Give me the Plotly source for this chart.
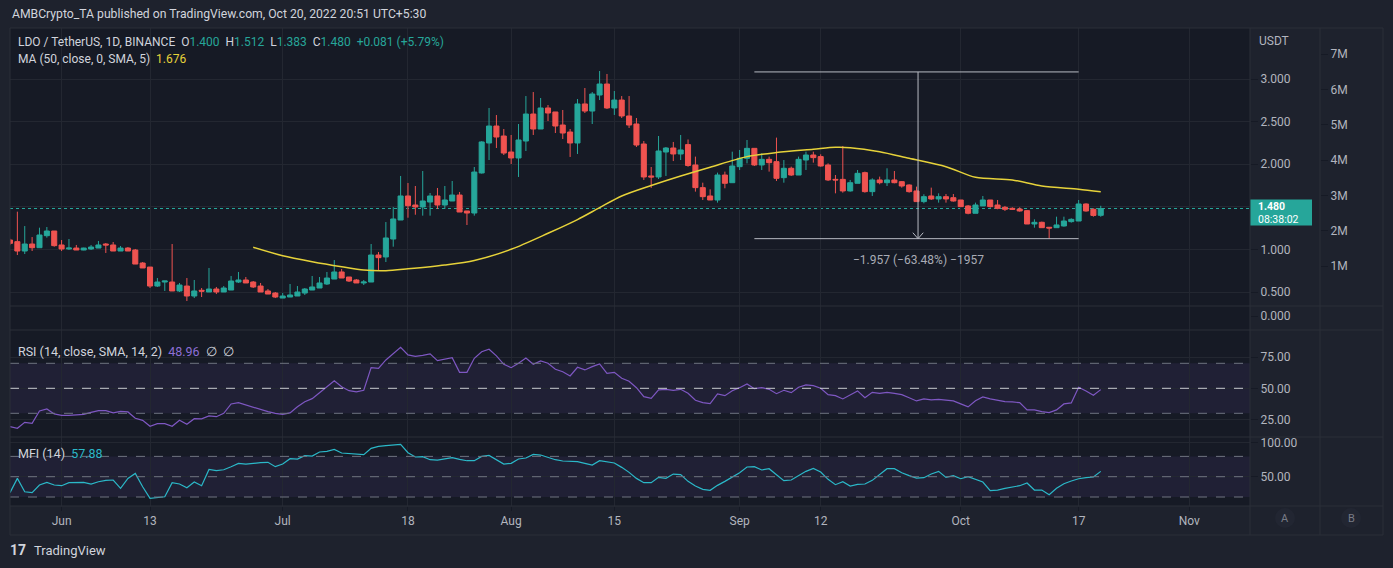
import pandas as pd
import plotly.graph_objects as go

# LDO / TetherUS daily candles, 25 May - 20 Oct 2022
start_day = "2022-05-25"
opens = [1.110, 1.091, 0.981, 1.063, 1.020, 1.161, 1.216, 1.052, 1.005, 1.016,
         0.993, 1.005, 1.016, 1.063, 1.052, 0.981, 1.016, 0.993, 0.840, 0.793,
         0.570, 0.617, 0.617, 0.512, 0.570, 0.453, 0.520, 0.500, 0.535, 0.500,
         0.523, 0.617, 0.641, 0.617, 0.570, 0.512, 0.488, 0.429, 0.441, 0.453,
         0.488, 0.523, 0.547, 0.594, 0.652, 0.735, 0.676, 0.641, 0.606, 0.617,
         0.934, 0.911, 1.122, 1.345, 1.627, 1.521, 1.498, 1.556, 1.627, 1.521,
         1.568, 1.638, 1.451, 1.427, 1.897, 2.249, 2.448, 2.331, 2.143, 2.073,
         2.272, 2.589, 2.413, 2.660, 2.613, 2.460, 2.378, 2.249, 2.707, 2.624,
         2.812, 2.941, 2.660, 2.753, 2.566, 2.472, 2.237, 1.862, 1.850, 2.143,
         2.190, 2.120, 2.230, 1.991, 1.725, 1.627, 1.580, 1.873, 1.783, 1.971,
         2.069, 2.186, 1.991, 2.057, 2.030, 1.842, 1.952, 1.873, 2.049, 2.108,
         2.089, 1.991, 1.822, 1.822, 1.686, 1.776, 1.901, 1.678, 1.815, 1.783,
         1.815, 1.795, 1.756, 1.686, 1.561, 1.627, 1.592, 1.619, 1.607, 1.580,
         1.510, 1.424, 1.510, 1.580, 1.521, 1.494, 1.482, 1.474, 1.455, 1.298,
         1.318, 1.260, 1.255, 1.275, 1.326, 1.333, 1.533, 1.471, 1.400]
highs = [1.125, 1.443, 1.274, 1.145, 1.255, 1.263, 1.216, 1.110, 1.122, 1.052,
         1.020, 1.052, 1.099, 1.075, 1.087, 1.040, 1.028, 1.005, 0.852, 0.793,
         0.664, 0.629, 1.063, 0.606, 0.664, 0.641, 0.547, 0.782, 0.559, 0.570,
         0.688, 0.735, 0.676, 0.629, 0.606, 0.535, 0.500, 0.488, 0.594, 0.570,
         0.547, 0.688, 0.676, 0.735, 0.875, 0.770, 0.676, 0.652, 0.641, 1.063,
         0.969, 1.321, 1.497, 1.862, 1.779, 1.744, 1.920, 1.662, 1.721, 1.744,
         1.803, 1.674, 1.451, 1.967, 2.270, 2.660, 2.577, 2.413, 2.343, 2.472,
         2.800, 2.847, 2.777, 2.695, 2.613, 2.636, 2.413, 2.765, 2.894, 2.847,
         3.094, 3.059, 2.859, 2.800, 2.800, 2.542, 2.272, 1.967, 2.331, 2.202,
         2.261, 2.343, 2.290, 2.089, 1.783, 1.705, 1.901, 1.913, 2.147, 2.167,
         2.284, 2.186, 2.128, 2.089, 2.312, 2.049, 1.971, 2.089, 2.147, 2.147,
         2.116, 2.010, 1.873, 2.214, 1.815, 1.932, 1.913, 1.834, 1.854, 1.952,
         1.920, 1.803, 1.764, 1.737, 1.647, 1.725, 1.658, 1.650, 1.650, 1.580,
         1.521, 1.549, 1.627, 1.580, 1.580, 1.510, 1.494, 1.494, 1.463, 1.353,
         1.326, 1.260, 1.384, 1.384, 1.365, 1.580, 1.541, 1.482, 1.512]
lows = [1.050, 0.934, 0.946, 0.981, 1.020, 1.138, 1.032, 0.981, 0.993, 0.993,
        0.990, 0.993, 1.016, 0.958, 0.981, 0.981, 0.981, 0.828, 0.782, 0.547,
        0.559, 0.512, 0.512, 0.500, 0.394, 0.429, 0.441, 0.500, 0.476, 0.500,
        0.523, 0.606, 0.606, 0.547, 0.500, 0.476, 0.429, 0.429, 0.441, 0.453,
        0.465, 0.523, 0.547, 0.582, 0.652, 0.664, 0.617, 0.606, 0.582, 0.617,
        0.758, 0.852, 1.032, 1.345, 1.372, 1.407, 1.396, 1.396, 1.474, 1.474,
        1.568, 1.439, 1.286, 1.396, 1.890, 2.049, 2.190, 2.108, 2.002, 1.850,
        2.155, 2.343, 2.413, 2.507, 2.366, 2.296, 2.085, 2.120, 2.601, 2.472,
        2.753, 2.648, 2.578, 2.542, 2.425, 2.202, 1.815, 1.721, 1.826, 1.862,
        2.037, 2.049, 1.970, 1.678, 1.580, 1.580, 1.549, 1.717, 1.783, 1.932,
        2.010, 1.979, 1.932, 1.913, 1.803, 1.783, 1.862, 1.873, 1.932, 2.018,
        1.971, 1.803, 1.658, 1.666, 1.678, 1.776, 1.666, 1.627, 1.764, 1.744,
        1.776, 1.725, 1.666, 1.561, 1.541, 1.580, 1.549, 1.549, 1.561, 1.502,
        1.412, 1.424, 1.510, 1.490, 1.471, 1.451, 1.463, 1.443, 1.298, 1.255,
        1.255, 1.126, 1.255, 1.267, 1.314, 1.333, 1.443, 1.384, 1.383]
closes = [1.071, 0.981, 1.063, 1.020, 1.169, 1.216, 1.044, 1.005, 1.016, 0.993,
          1.016, 1.028, 1.052, 1.052, 0.981, 1.016, 0.981, 0.828, 0.782, 0.570,
          0.617, 0.629, 0.512, 0.582, 0.453, 0.512, 0.510, 0.535, 0.500, 0.547,
          0.629, 0.641, 0.606, 0.559, 0.500, 0.476, 0.441, 0.453, 0.465, 0.500,
          0.535, 0.559, 0.606, 0.664, 0.735, 0.664, 0.629, 0.606, 0.617, 0.934,
          0.903, 1.134, 1.357, 1.627, 1.513, 1.498, 1.568, 1.627, 1.521, 1.580,
          1.638, 1.439, 1.427, 1.908, 2.261, 2.448, 2.319, 2.131, 2.073, 2.284,
          2.589, 2.413, 2.660, 2.601, 2.448, 2.366, 2.249, 2.707, 2.624, 2.824,
          2.941, 2.660, 2.753, 2.566, 2.460, 2.225, 1.850, 1.850, 2.155, 2.190,
          2.120, 2.167, 1.985, 1.725, 1.619, 1.580, 1.873, 1.776, 1.979, 2.069,
          2.186, 1.991, 2.057, 2.018, 1.834, 1.952, 1.873, 2.057, 2.108, 2.077,
          1.979, 1.815, 1.815, 1.686, 1.783, 1.893, 1.678, 1.815, 1.783, 1.815,
          1.783, 1.744, 1.678, 1.561, 1.619, 1.592, 1.619, 1.592, 1.568, 1.502,
          1.424, 1.521, 1.580, 1.502, 1.482, 1.471, 1.471, 1.451, 1.298, 1.318,
          1.255, 1.251, 1.287, 1.333, 1.353, 1.533, 1.451, 1.399, 1.480]

# MA(50) read at sample dates
ma_dates = ["2022-06-27", "2022-07-01", "2022-07-05", "2022-07-09", "2022-07-12",
            "2022-07-15", "2022-07-18", "2022-07-23", "2022-07-27", "2022-08-01",
            "2022-08-06", "2022-08-10", "2022-08-13", "2022-08-16", "2022-08-20",
            "2022-08-24", "2022-08-28", "2022-09-02", "2022-09-06", "2022-09-11",
            "2022-09-14", "2022-09-16", "2022-09-20", "2022-09-24", "2022-09-29",
            "2022-10-03", "2022-10-08", "2022-10-12", "2022-10-17", "2022-10-20"]
ma_values = [1.025, 0.926, 0.856, 0.797, 0.758, 0.750, 0.772, 0.817, 0.870, 1.001,
             1.189, 1.350, 1.490, 1.627, 1.750, 1.862, 1.965, 2.089, 2.136, 2.175,
             2.198, 2.194, 2.147, 2.069, 1.971, 1.846, 1.815, 1.744, 1.705, 1.676]

rsi = [19.3, 18.0, 22.8, 22.0, 31.9, 33.5, 29.5, 28.4, 28.4, 28.7,
       29.2, 30.8, 32.1, 32.1, 30.3, 31.6, 31.1, 26.0, 24.4, 19.6,
       21.7, 21.7, 19.6, 24.4, 21.2, 25.7, 25.5, 27.9, 27.3, 30.0,
       37.5, 38.5, 36.7, 34.5, 32.7, 31.3, 30.0, 29.2, 30.3, 35.3,
       39.3, 41.7, 46.5, 51.3, 56.1, 51.3, 48.1, 47.1, 48.4, 66.5,
       66.0, 72.7, 78.0, 82.8, 76.7, 75.6, 76.4, 77.5, 72.1, 73.2,
       74.5, 62.8, 62.8, 74.0, 79.3, 81.2, 75.9, 69.2, 66.5, 70.0,
       74.3, 69.2, 71.9, 70.0, 65.2, 63.3, 59.9, 66.8, 64.7, 67.3,
       69.5, 62.0, 62.8, 58.0, 55.6, 50.5, 43.3, 42.0, 48.7, 49.2,
       48.4, 49.2, 46.0, 40.4, 38.5, 37.7, 45.5, 44.1, 48.1, 50.5,
       53.5, 49.7, 50.5, 49.2, 45.7, 48.4, 46.5, 50.8, 52.7, 52.1,
       50.0, 44.9, 44.1, 41.5, 44.4, 47.9, 42.5, 46.8, 46.0, 46.8,
       46.0, 44.9, 42.5, 39.9, 41.5, 40.7, 41.2, 40.7, 39.9, 37.5,
       35.1, 40.1, 43.1, 41.5, 40.1, 39.3, 39.1, 38.5, 32.7, 32.7,
       31.3, 30.5, 32.7, 37.5, 38.3, 50.8, 47.9, 44.4, 48.96]

mfi = [26.4, 47.5, 27.8, 26.4, 37.7, 41.6, 37.7, 36.7, 41.1, 41.6,
       41.6, 39.2, 42.6, 44.6, 45.1, 32.8, 47.5, 54.9, 35.2, 18.0,
       19.0, 20.4, 41.1, 39.2, 33.7, 42.1, 36.7, 60.8, 58.9, 60.3,
       64.8, 69.7, 68.7, 70.2, 70.7, 71.2, 64.8, 68.7, 76.6, 76.1,
       81.0, 80.5, 86.5, 87.4, 90.4, 85.0, 84.0, 83.5, 82.5, 91.9,
       94.8, 95.8, 96.8, 97.8, 85.5, 79.1, 79.6, 75.1, 74.6, 76.1,
       78.1, 75.6, 73.6, 73.6, 80.0, 81.5, 75.1, 68.7, 69.7, 76.1,
       77.6, 83.0, 82.0, 78.6, 75.1, 73.2, 72.7, 72.2, 69.7, 67.2,
       73.6, 72.2, 70.2, 63.8, 56.4, 47.5, 41.1, 41.1, 49.0, 47.5,
       53.9, 53.0, 43.1, 36.2, 31.3, 29.8, 37.2, 43.1, 50.0, 55.9,
       64.3, 64.8, 59.9, 61.8, 53.0, 44.1, 45.1, 51.0, 57.9, 62.3,
       56.9, 46.1, 38.2, 42.6, 36.2, 38.7, 39.2, 44.6, 53.0, 61.8,
       61.8, 55.9, 51.5, 48.0, 48.5, 53.9, 57.9, 49.0, 51.5, 47.0,
       50.0, 45.6, 42.1, 29.3, 30.3, 32.8, 34.7, 36.7, 40.6, 30.3,
       30.3, 23.4, 32.8, 39.7, 43.6, 47.0, 48.5, 49.5, 57.88]

tick_dates = ["2022-06-01", "2022-06-13", "2022-07-01", "2022-07-18", "2022-08-01",
              "2022-08-15", "2022-09-01", "2022-09-12", "2022-10-01", "2022-10-17",
              "2022-11-01"]
tick_text = ["Jun", "13", "Jul", "18", "Aug", "15", "Sep", "12", "Oct", "17", "Nov"]
price_ticks = [0.5, 1.0, 1.5, 2.0, 2.5, 3.0]
price_text = ["0.500", "1.000", "", "2.000", "2.500", "3.000"]  # 1.500 sits under the price label
volume_ticks = [1e6, 2e6, 3e6, 4e6, 5e6, 6e6, 7e6]
volume_text = ["1M", "2M", "3M", "4M", "5M", "6M", "7M"]

# price range drawn with the measure tool
measure_top, measure_bottom = 3.083, 1.126
measure_from, measure_to, measure_at = "2022-09-03", "2022-10-17", "2022-09-25 05:00"

dates = pd.date_range(start_day, periods=len(closes), freq="D")

# ---- page geometry (pixels) ----
W, H = 1393, 568
ML, MR, MT, MB = 10, 10, 28, 33
PW, PH = W - ML - MR, H - MT - MB


def px(x):
    return (x - ML) / PW


def py(y):
    return (H - MB - y) / PH


BG_OUT = "#1e222d"
BG = "#161a25"
GRID = "#232731"
SEP = "#2a2e39"
TXT = "#b2b5be"
LEG = "#d1d4dc"
UP = "#26a69a"
DN = "#ef5350"
MA_C = "#e6d23a"
RSI_C = "#7e57c2"
MFI_C = "#2bb8c8"
FONT = "Roboto"

x_end = pd.Timestamp(start_day) + pd.Timedelta(hours=168.25 * 24)

fig = go.Figure()

fig.add_trace(go.Candlestick(
    x=dates, open=opens, high=highs, low=lows, close=closes,
    increasing=dict(line=dict(color=UP, width=1), fillcolor=UP),
    decreasing=dict(line=dict(color=DN, width=1), fillcolor=DN),
    whiskerwidth=0, yaxis="y", showlegend=False, hoverinfo="skip"
))
fig.add_trace(go.Scatter(
    x=ma_dates, y=ma_values, mode="lines",
    line=dict(color=MA_C, width=1.5, shape="spline", smoothing=0.8),
    yaxis="y", showlegend=False, hoverinfo="skip"
))
fig.add_trace(go.Scatter(x=[], y=[], yaxis="y5", showlegend=False))
fig.add_trace(go.Scatter(x=[], y=[], yaxis="y2", showlegend=False))
fig.add_trace(go.Scatter(
    x=dates, y=rsi, mode="lines", line=dict(color=RSI_C, width=1.2),
    yaxis="y3", showlegend=False, hoverinfo="skip"
))
fig.add_trace(go.Scatter(
    x=dates, y=mfi, mode="lines", line=dict(color=MFI_C, width=1.2),
    yaxis="y4", showlegend=False, hoverinfo="skip"
))

axis_font = dict(family=FONT, size=12, color=TXT)
common_y = dict(side="right", anchor="x", showline=False, zeroline=False,
                ticks="outside", ticklen=7, tickcolor=BG, tickfont=axis_font,
                fixedrange=True)

fig.update_layout(
    width=W, height=H,
    margin=dict(l=ML, r=MR, t=MT, b=MB),
    paper_bgcolor=BG_OUT, plot_bgcolor=BG,
    font=dict(family=FONT, color=TXT),
    showlegend=False,
    boxgap=0.05, boxgroupgap=0.28,
    xaxis=dict(
        type="date", domain=[0, px(1250)], range=[start_day, x_end], anchor="y4",
        tickvals=tick_dates, ticktext=tick_text, tickfont=axis_font,
        ticks="outside", ticklen=4, tickcolor=BG,
        showgrid=True, gridcolor=GRID, showline=False, zeroline=False,
        rangeslider=dict(visible=False)
    ),
    yaxis=dict(domain=[py(306), 1], range=[0.3357, 3.5986], tickvals=price_ticks,
               ticktext=price_text, gridcolor=GRID, **common_y),
    yaxis5=dict(overlaying="y", anchor="free", position=px(1320), side="right",
                range=[-0.132e6, 7.736e6], tickvals=volume_ticks, ticktext=volume_text,
                showgrid=False, zeroline=False, ticks="outside", ticklen=7, tickcolor=BG,
                tickfont=axis_font),
    yaxis2=dict(domain=[py(330), py(306)], range=[-1.4, 1.0], tickvals=[0],
                ticktext=["0.000"], showgrid=False, **common_y),
    yaxis3=dict(domain=[py(437), py(330)], range=[11.04, 96.64], tickvals=[25, 50, 75],
                tickformat=".2f", gridcolor=GRID, **common_y),
    yaxis4=dict(domain=[py(506), py(437)], range=[6.72, 108.64], tickvals=[50, 100],
                tickformat=".2f", gridcolor=GRID, **common_y),
)

shapes = []
# indicator bands and levels
for yref, lo, hi, levels in [("y3", 30, 70, [70, 50, 30]), ("y4", 20, 80, [80, 50, 20])]:
    shapes.append(dict(type="rect", xref="x domain", yref=yref, x0=0, x1=1, y0=lo, y1=hi,
                       fillcolor="rgba(126,87,194,0.10)", line=dict(width=0), layer="below"))
    for lv in levels:
        bright = (yref == "y3" and lv == 50)
        shapes.append(dict(type="line", xref="x domain", yref=yref, x0=0, x1=1, y0=lv, y1=lv,
                           line=dict(color="#c9cbd1" if bright else "#6f7380", width=1,
                                     dash="dash")))
# last price line and its label box
shapes.append(dict(type="line", xref="x domain", yref="y", x0=0, x1=1,
                   y0=closes[-1], y1=closes[-1], line=dict(color=UP, width=1, dash="dot"),
                   layer="below"))
shapes.append(dict(type="rect", xref="paper", yref="y", x0=px(1250), x1=px(1312),
                   ysizemode="pixel", yanchor=closes[-1], y0=-17, y1=9,
                   fillcolor=UP, line=dict(width=0)))
# measure tool
mcol = "#b8bbc4"
for lvl in (measure_top, measure_bottom):
    shapes.append(dict(type="line", xref="x", yref="y", x0=measure_from, x1=measure_to,
                       y0=lvl, y1=lvl, line=dict(color=mcol, width=1)))
shapes.append(dict(type="line", xref="x", yref="y", x0=measure_at, x1=measure_at,
                   y0=measure_top, y1=measure_bottom, line=dict(color=mcol, width=1)))
mat = pd.Timestamp(measure_at)
for side in (-1, 1):
    shapes.append(dict(type="line", xref="x", yref="y",
                       x0=mat + pd.Timedelta(hours=17 * side), x1=mat,
                       y0=measure_bottom + 0.07, y1=measure_bottom,
                       line=dict(color=mcol, width=1)))
# pane separators and frame
for yy in (306, 330, 437, 506):
    shapes.append(dict(type="line", xref="paper", yref="paper", x0=0, x1=1,
                       y0=py(yy), y1=py(yy), line=dict(color=SEP, width=1)))
for xx in (1250, 1320):
    shapes.append(dict(type="line", xref="paper", yref="paper", x0=px(xx), x1=px(xx),
                       y0=0, y1=1, line=dict(color=SEP, width=1)))
shapes.append(dict(type="rect", xref="paper", yref="paper", x0=0, x1=1, y0=0, y1=1,
                   line=dict(color=SEP, width=1)))
# A / B buttons
for cx in (1285, 1351):
    shapes.append(dict(type="circle", xref="paper", yref="paper",
                       x0=px(cx - 10), x1=px(cx + 10), y0=py(528), y1=py(508),
                       fillcolor="#222632", line=dict(width=0)))
fig.update_layout(shapes=shapes)

chg = closes[-1] - closes[-2]
pct = chg / closes[-2] * 100
sp = "\u00a0"


def val(v, c):
    return f"<span style='color:{c}'>{v}</span>"


legend1 = (f"LDO / TetherUS, 1D, BINANCE{sp}{sp}O{val(f'{opens[-1]:.3f}', UP)}{sp}{sp}"
           f"H{val(f'{highs[-1]:.3f}', UP)}{sp}{sp}L{val(f'{lows[-1]:.3f}', UP)}{sp}{sp}"
           f"C{val(f'{closes[-1]:.3f}', UP)}{sp}{sp}{val(f'+{chg:.3f} (+{pct:.2f}%)', UP)}")
legend2 = f"MA (50, close, 0, SMA, 5){sp}{sp}{val(f'{ma_values[-1]:.3f}', MA_C)}"
legend3 = f"RSI (14, close, SMA, 14, 2){sp}{sp}{val(f'{rsi[-1]:.2f}', '#8d6fd6')}{sp}{sp}∅{sp}{sp}∅"
legend4 = f"MFI (14){sp}{sp}{val(f'{mfi[-1]:.2f}', MFI_C)}"

ann = []


def text(x, y, s, size=12, color=LEG, xanchor="left", **kw):
    ann.append(dict(xref="paper", yref="paper", x=px(x), y=py(y), text=s, showarrow=False,
                    xanchor=xanchor, yanchor="middle",
                    font=dict(family=FONT, size=size, color=color), **kw))


text(10, 14, "AMBCrypto_TA published on TradingView.com, Oct 20, 2022 20:51 UTC+5:30", 12.2)
text(16, 42, legend1, 12)
text(16, 59, legend2, 12)
text(16, 352, legend3, 12.5)
text(16, 453, legend4, 12.5)
text(1257, 41, "USDT", 12, TXT)
text(1285, 518, "A", 11, "#787b86", xanchor="center")
text(1351, 518, "B", 11, "#787b86", xanchor="center")
text(8, 550, "<b>17</b>", 14, LEG)
text(32, 550, "TradingView", 13, LEG)

# last price label text (two rows inside the teal box)
for row, shift in ((f"<b>{closes[-1]:.3f}</b>", 2), ("08:38:02", -11)):
    ann.append(dict(xref="paper", yref="y", x=px(1257), y=closes[-1], yshift=shift,
                    xanchor="left", yanchor="middle", showarrow=False, text=row,
                    borderpad=0, font=dict(family=FONT, size=10.5, color="#ffffff")))
ann.append(dict(xref="x", yref="y", x=measure_at, y=measure_bottom, yshift=-21,
                showarrow=False, xanchor="center", yanchor="middle",
                text=f"\u22121.957 (\u221263.48%) \u22121957",
                font=dict(family=FONT, size=12, color="#a9acb5")))
fig.update_layout(annotations=ann)

fig.write_html("out.html", config={"displayModeBar": False},
               post_script="document.body.style.margin='0';"
               "document.body.style.background='#1e222d';")
